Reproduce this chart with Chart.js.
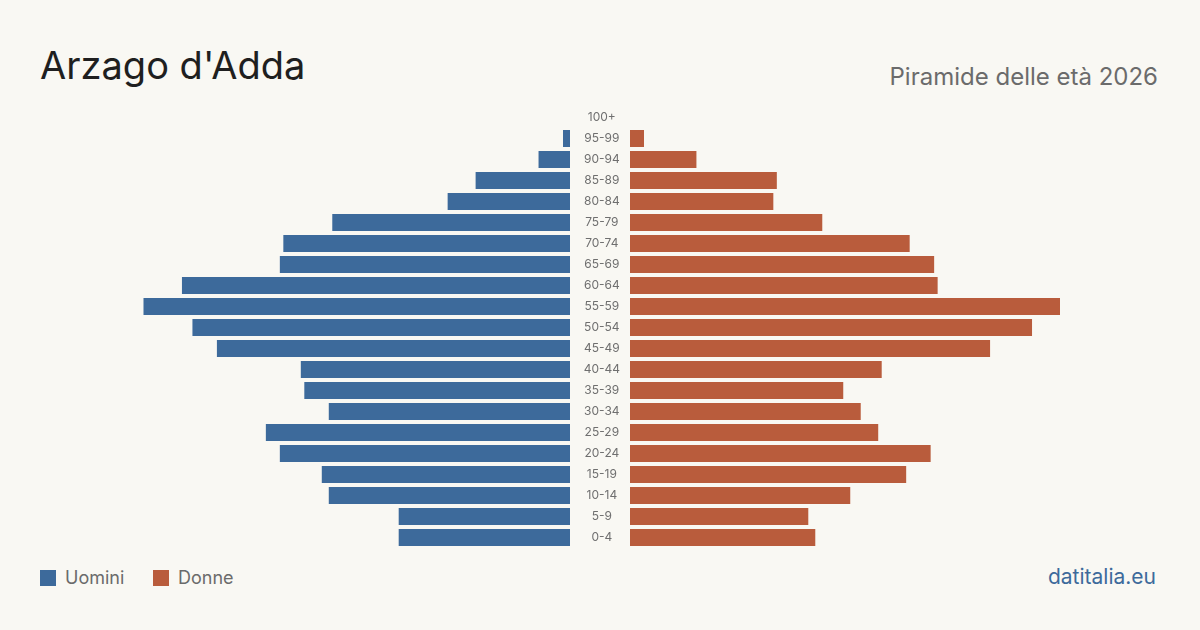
<!DOCTYPE html>
<html lang="it">
<head>
<meta charset="utf-8">
<title>Arzago d'Adda - Piramide delle età 2026</title>
<script src="https://cdn.jsdelivr.net/npm/chart.js@4/dist/chart.umd.min.js"></script>
<style>
  html, body { margin: 0; padding: 0; }
  body {
    width: 1200px; height: 630px; position: relative; overflow: hidden;
    background: #f9f8f3; font-family: Inter, "Noto Sans", sans-serif;
  }
  #title { position: absolute; left: 40px; top: 46px; font-size: 38px; color: #1f1f1f; line-height: 1; }
  #subtitle { position: absolute; right: 42px; top: 65px; font-size: 24px; color: #6b6b6b; line-height: 1; }
  #left-wrap  { position: absolute; left: 140px; top: 107px; width: 430px; height: 441px; }
  #right-wrap { position: absolute; left: 570px; top: 107px; width: 490px; height: 441px; }
  .legend { position: absolute; top: 568px; font-size: 18px; color: #6b6b6b; line-height: 20px; }
  .legend span.sw { display: inline-block; width: 16px; height: 16px; vertical-align: -2px; margin-right: 9px; }
  #brand { position: absolute; right: 44px; top: 566px; font-size: 21px; color: #3d6a9b; line-height: 22px; }
</style>
</head>
<body>
<div id="title">Arzago d'Adda</div>
<div id="subtitle">Piramide delle età 2026</div>
<div id="left-wrap"><canvas id="left"></canvas></div>
<div id="right-wrap"><canvas id="right"></canvas></div>
<div class="legend" style="left:40px"><span class="sw" style="background:#3d6a9b"></span>Uomini</div>
<div class="legend" style="left:153px"><span class="sw" style="background:#b95c3c"></span>Donne</div>
<div id="brand">datitalia.eu</div>

<script>
// age classes, top row first (as drawn)
const ageGroups = ["100+", "95-99", "90-94", "85-89", "80-84", "75-79", "70-74", "65-69",
  "60-64", "55-59", "50-54", "45-49", "40-44", "35-39", "30-34", "25-29",
  "20-24", "15-19", "10-14", "5-9", "0-4"];

// residents per class
const uomini = [0, 2, 9, 27, 35, 68, 82, 83, 111, 122, 108, 101, 77, 76, 69, 87, 83, 71, 69, 49, 49];
const donne  = [0, 4, 19, 42, 41, 55, 80, 87, 88, 123, 115, 103, 72, 61, 66, 71, 86, 79, 63, 51, 53];

const colUomini = "#3d6a9b";
const colDonne  = "#b95c3c";

const maxVal = Math.max(...uomini, ...donne);

function baseOptions(reverse) {
  return {
    indexAxis: "y",
    responsive: true,
    maintainAspectRatio: false,
    animation: false,
    layout: { padding: 0 },
    plugins: { legend: { display: false }, tooltip: { enabled: false } },
    scales: {
      x: { display: false, min: 0, max: maxVal, reverse: reverse, grid: { display: false } },
      y: { display: false, grid: { display: false } }
    }
  };
}

// men, growing leftwards
new Chart(document.getElementById("left"), {
  type: "bar",
  data: {
    labels: ageGroups,
    datasets: [{ data: uomini, backgroundColor: colUomini, barPercentage: 0.81, categoryPercentage: 1 }]
  },
  options: baseOptions(true)
});

// women, with the age labels in the middle column
const rightOpts = baseOptions(false);
rightOpts.scales.y = {
  display: true,
  position: "left",
  grid: { display: false, drawTicks: false },
  border: { display: false },
  ticks: {
    autoSkip: false,
    crossAlign: "center",
    padding: 10,
    color: "#6f6f6f",
    font: { family: "Inter", size: 12 }
  },
  afterFit: (scale) => {
    scale.width = 60;
    scale.paddingTop = 0;
    scale.paddingBottom = 0;
  }
};
new Chart(document.getElementById("right"), {
  type: "bar",
  data: {
    labels: ageGroups,
    datasets: [{ data: donne, backgroundColor: colDonne, barPercentage: 0.81, categoryPercentage: 1 }]
  },
  options: rightOpts
});
</script>
</body>
</html>
